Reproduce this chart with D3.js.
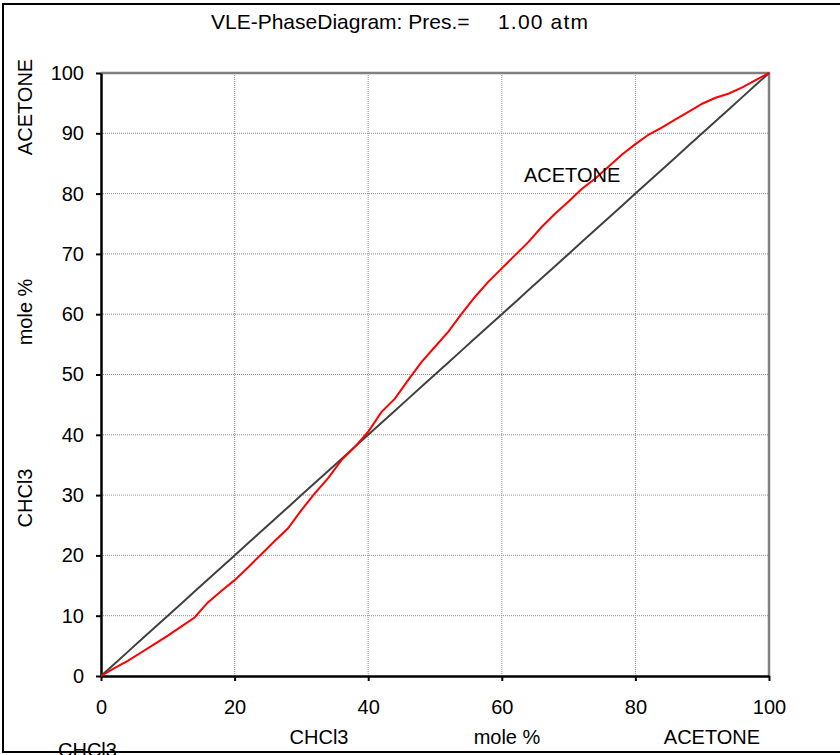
<!DOCTYPE html>
<html>
<head>
<meta charset="utf-8">
<script src="https://cdn.jsdelivr.net/npm/d3@7"></script>
<style>
  body { margin: 0; background: #fff; }
  svg text { font-family: "Liberation Sans", Arial, sans-serif; fill: #000; }
</style>
</head>
<body>
<div id="chart"></div>
<script>
/* VLE phase diagram — acetone / CHCl3 at 1 atm */
const liquidAcetone = [0, 2, 4, 6, 8, 10, 12, 14, 16, 18, 20, 22, 24, 26, 28, 30, 32, 34, 36, 38, 40,
  42, 44, 46, 48, 50, 52, 54, 56, 58, 60, 62, 64, 66, 68, 70, 72, 74, 76, 78, 80,
  82, 84, 86, 88, 90, 92, 94, 96, 98, 100];
const vaporAcetone = [0, 1.3, 2.5, 3.9, 5.3, 6.7, 8.2, 9.7, 12.2, 14.1, 15.9, 18.0, 20.2, 22.4, 24.5, 27.5, 30.3, 32.8, 35.8, 38.0, 40.5,
  43.8, 46.0, 49.1, 52.1, 54.6, 57.1, 60.1, 62.9, 65.4, 67.6, 69.8, 72.0, 74.5, 76.7, 78.7, 80.8, 82.5, 84.5, 86.5, 88.2,
  89.8, 91.0, 92.3, 93.6, 94.9, 95.9, 96.6, 97.6, 98.8, 100];
const diagonal = [0, 2, 4, 6, 8, 10, 12, 14, 16, 18, 20, 22, 24, 26, 28, 30, 32, 34, 36, 38, 40,
  42, 44, 46, 48, 50, 52, 54, 56, 58, 60, 62, 64, 66, 68, 70, 72, 74, 76, 78, 80,
  82, 84, 86, 88, 90, 92, 94, 96, 98, 100];
const xTicks = [0, 20, 40, 60, 80, 100];
const yTicks = [0, 10, 20, 30, 40, 50, 60, 70, 80, 90, 100];

const W = 840, H = 755;
const svg = d3.select('#chart').append('svg').attr('width', W).attr('height', H);

// outer frame
svg.append('rect').attr('x', 3).attr('y', 4).attr('width', 900).attr('height', 748)
  .attr('fill', 'none').attr('stroke', '#000').attr('stroke-width', 2);

const x = d3.scaleLinear().domain([0, 100]).range([101, 769]);
const y = d3.scaleLinear().domain([0, 100]).range([676, 73]);

// grid
svg.append('g').selectAll('line').data(xTicks.slice(1, -1)).enter().append('line')
  .attr('x1', d => x(d)).attr('x2', d => x(d)).attr('y1', y(0)).attr('y2', y(100))
  .attr('stroke', '#8c8c8c').attr('stroke-width', 1).attr('stroke-dasharray', '1,1');
svg.append('g').selectAll('line').data(yTicks.slice(1, -1)).enter().append('line')
  .attr('y1', d => y(d)).attr('y2', d => y(d)).attr('x1', x(0)).attr('x2', x(100))
  .attr('stroke', '#8c8c8c').attr('stroke-width', 1).attr('stroke-dasharray', '1,1');

// gray top/right border of plot
svg.append('path')
  .attr('d', `M${x(0)},${y(100)}H${x(100)}V${y(0)}`)
  .attr('fill', 'none').attr('stroke', '#808080').attr('stroke-width', 2.5);

// axes
const gx = svg.append('g').attr('transform', `translate(0,${y(0)})`)
  .call(d3.axisBottom(x).tickValues(xTicks).tickSize(5).tickPadding(19).tickSizeOuter(0));
const gy = svg.append('g').attr('transform', `translate(${x(0)},0)`)
  .call(d3.axisLeft(y).tickValues(yTicks).tickSize(5).tickPadding(12).tickSizeOuter(0));
[gx, gy].forEach(g => {
  g.select('.domain').attr('stroke', '#000').attr('stroke-width', 2.5);
  g.selectAll('.tick line').attr('stroke', '#000').attr('stroke-width', 2);
  g.selectAll('.tick text').attr('font-size', '20px').attr('font-family', '"Liberation Sans", Arial, sans-serif');
});

// series
const line = d3.line().x(d => x(d[0])).y(d => y(d[1]));
svg.append('path').datum(liquidAcetone.map((v, i) => [v, diagonal[i]]))
  .attr('fill', 'none').attr('stroke', '#404040').attr('stroke-width', 2).attr('d', line);
svg.append('path').datum(liquidAcetone.map((v, i) => [v, vaporAcetone[i]]))
  .attr('fill', 'none').attr('stroke', '#ff0000').attr('stroke-width', 2).attr('d', line);

// labels
svg.append('text').attr('x', 211).attr('y', 29).attr('font-size', '21px').text('VLE-PhaseDiagram: Pres.=');
svg.append('text').attr('x', 498).attr('y', 29).attr('font-size', '21px')
  .attr('textLength', 90).attr('lengthAdjust', 'spacing').text('1.00 atm');
svg.append('text').attr('x', 524).attr('y', 182).attr('font-size', '20px').text('ACETONE');

const yLabels = [['ACETONE', 107], ['mole %', 312], ['CHCl3', 498]];
yLabels.forEach(([t, cy]) => {
  svg.append('text').attr('transform', `translate(32,${cy}) rotate(-90)`)
    .attr('text-anchor', 'middle').attr('font-size', '20px').text(t);
});
const xLabels = [['CHCl3', 319], ['mole %', 507], ['ACETONE', 712]];
xLabels.forEach(([t, cx]) => {
  svg.append('text').attr('x', cx).attr('y', 744).attr('text-anchor', 'middle')
    .attr('font-size', '20px').text(t);
});
svg.append('text').attr('x', 58).attr('y', 757).attr('font-size', '20px').text('CHCl3');
</script>
</body>
</html>
